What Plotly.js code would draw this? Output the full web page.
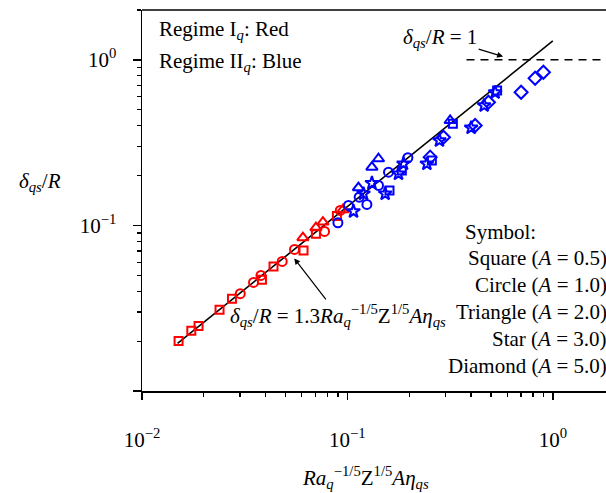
<!DOCTYPE html>
<html>
<head>
<meta charset="utf-8">
<script src="https://cdn.plot.ly/plotly-3.0.1.min.js"></script>
<style>html,body{margin:0;padding:0;background:#fff}#chart{width:606px;height:493px}</style>
</head>
<body>
<div id="chart"></div>
<script>
// Regime I (red)
const redSquareX = [0.01507, 0.01738, 0.01885, 0.02385, 0.02742, 0.03837, 0.04368, 0.06115, 0.07027, 0.0889];
const redSquareY = [0.02004, 0.02314, 0.02468, 0.03098, 0.03610, 0.0470, 0.05656, 0.07064, 0.0891, 0.1138];
const redCircleX = [0.03009, 0.03491, 0.03794, 0.04816, 0.05527, 0.0774, 0.0923];
const redCircleY = [0.0387, 0.04529, 0.04991, 0.06064, 0.07163, 0.092, 0.1232];
const redTriangleX = [0.06073, 0.07027, 0.0760, 0.0951];
const redTriangleY = [0.0843, 0.0969, 0.1047, 0.1244];
// Regime II (blue)
const blueSquareX = [0.1603, 0.1841, 0.2577, 0.3262, 0.5357];
const blueSquareY = [0.1627, 0.2147, 0.2468, 0.4110, 0.6527];
const blueCircleX = [0.0899, 0.1012, 0.1141, 0.1244, 0.1417, 0.1585, 0.197];
const blueCircleY = [0.1038, 0.132, 0.1482, 0.1339, 0.1743, 0.2097, 0.2563];
const blueTriangleX = [0.1132, 0.1316, 0.1417, 0.3164];
const blueTriangleY = [0.1689, 0.2248, 0.2527, 0.4301];
const blueStarX = [0.1071, 0.1198, 0.1316, 0.1527, 0.1773, 0.1875, 0.2437, 0.2806, 0.4003, 0.4631, 0.5238];
const blueStarY = [0.1215, 0.1554, 0.18, 0.1554, 0.2051, 0.2357, 0.2357, 0.3258, 0.3888, 0.5299, 0.635];
const blueDiamondX = [0.2529, 0.2935, 0.4187, 0.486, 0.701, 0.8202, 0.9];
const blueDiamondY = [0.2584, 0.3411, 0.4014, 0.5548, 0.6374, 0.774, 0.8417];
// Fit line delta/R = 1.3 X and limit delta/R = 1
const fitCoef = 1.3;
const fitX = [0.0149, 1.0];
const limitX = [0.38, 2.0];
const limitY = [1, 1];
// Tick labels
const xTickVals = [0.01, 0.1, 1];
const xTickText = ['10<sup>−2</sup>', '10<sup>−1</sup>', '10<sup>0</sup>'];
const yTickVals = [0.01, 0.1, 1];
const yTickText = ['', '10<sup>−1</sup>', '10<sup>0</sup>'];
const minorVals = [0.02,0.03,0.04,0.05,0.06,0.07,0.08,0.09,0.2,0.3,0.4,0.5,0.6,0.7,0.8,0.9,2];
const symbolLines = ['Square (<i>A</i> = 0.5)', 'Circle (<i>A</i> = 1.0)', 'Triangle (<i>A</i> = 2.0)', 'Star (<i>A</i> = 3.0)', 'Diamond (<i>A</i> = 5.0)'];

const RED = 'rgb(255,0,0)', BLUE = 'rgb(0,0,255)';
const FONT = 'Liberation Serif';
const FS = 21;

function mk(x, y, color, symbol, size) {
  return {x: x, y: y, type: 'scatter', mode: 'markers', cliponaxis: false,
    marker: {symbol: symbol, color: color, size: size, line: {color: color, width: 2}}};
}

const traces = [
  {x: limitX, y: limitY, type: 'scatter', mode: 'lines', line: {color: 'black', width: 1.5, dash: '8px,6px'}},
  {x: fitX, y: fitX.map(v => fitCoef * v), type: 'scatter', mode: 'lines', line: {color: 'black', width: 1.6}},
  mk(redSquareX, redSquareY, RED, 'square-open', 8),
  mk(redCircleX, redCircleY, RED, 'circle-open', 9),
  mk(redTriangleX, redTriangleY, RED, 'triangle-up-open', 10),
  mk(blueSquareX, blueSquareY, BLUE, 'square-open', 8),
  mk(blueCircleX, blueCircleY, BLUE, 'circle-open', 9),
  mk(blueTriangleX, blueTriangleY, BLUE, 'triangle-up-open', 10),
  mk(blueStarX, blueStarY, BLUE, 'star-open', 10),
  mk(blueDiamondX, blueDiamondY, BLUE, 'diamond-open', 10)
];

const axisCommon = {
  type: 'log', showgrid: false, zeroline: false, showline: true, linecolor: 'black', linewidth: 1.5,
  ticks: 'outside', tickwidth: 1.5, tickcolor: 'black', tickmode: 'array',
  tickfont: {family: FONT, size: FS, color: 'black'},
  minor: {tickmode: 'array', tickvals: minorVals, ticks: 'outside', ticklen: 4, tickwidth: 1.2, tickcolor: 'black', showgrid: false}
};

const anns = [
  {xref: 'paper', yref: 'paper', x: 0.032, y: 0.9475, xanchor: 'left', yanchor: 'middle', showarrow: false,
   text: 'Regime I<sub><i>q</i></sub>: Red'},
  {xref: 'paper', yref: 'paper', x: 0.032, y: 0.8635, xanchor: 'left', yanchor: 'middle', showarrow: false,
   text: 'Regime II<sub><i>q</i></sub>: Blue'},
  {xref: 'x', yref: 'y', x: Math.log10(0.573), y: Math.log10(1.047), ax: -63, ay: -19,
   showarrow: true, arrowhead: 2, arrowsize: 1, arrowwidth: 1.2, arrowcolor: 'black',
   text: '<i>δ<sub>qs</sub></i>/<i>R</i> = 1'},
  {xref: 'x', yref: 'y', x: Math.log10(0.0551), y: Math.log10(0.0632), ax: 44, ay: 57,
   showarrow: true, arrowhead: 2, arrowsize: 1, arrowwidth: 1.2, arrowcolor: 'black',
   text: '<i>δ<sub>qs</sub></i>/<i>R</i> = 1.3<i>Ra<sub>q</sub></i><sup>−1/5</sup>Z<sup>1/5</sup><i>Aη<sub>qs</sub></i>'},
  {xref: 'paper', yref: 'paper', x: (463 - 142) / 464, y: (391 - 232) / 381, xanchor: 'left', yanchor: 'middle', showarrow: false,
   text: 'Symbol:'},
  {xref: 'paper', yref: 'paper', x: 0.5, y: (391 - 477) / 381, xanchor: 'center', yanchor: 'middle', showarrow: false,
   text: '<i>Ra<sub>q</sub></i><sup>−1/5</sup>Z<sup>1/5</sup><i>Aη<sub>qs</sub></i>', xshift: -9},
  {xref: 'paper', yref: 'paper', x: (40 - 142) / 464, y: (391 - 182) / 381, xanchor: 'center', yanchor: 'middle', showarrow: false,
   text: '<i>δ<sub>qs</sub></i>/<i>R</i>'}
];
symbolLines.forEach((t, i) => {
  anns.push({xref: 'paper', yref: 'paper', x: 1, xshift: 3, y: (391 - (258 + 27 * i)) / 381,
    xanchor: 'right', yanchor: 'middle', showarrow: false, text: t});
});

const layout = {
  width: 606, height: 493,
  margin: {l: 142, r: 0, t: 10, b: 102, pad: 0},
  paper_bgcolor: 'white', plot_bgcolor: 'white',
  showlegend: false,
  font: {family: FONT, size: FS, color: 'black'},
  xaxis: Object.assign({}, axisCommon, {range: [-2, 0.259], tickvals: xTickVals, ticktext: xTickText, ticklen: 7, ticklabelstandoff: 22}),
  yaxis: Object.assign({}, axisCommon, {range: [-2, 0.301], tickvals: yTickVals, ticktext: yTickText, ticklen: 8, ticklabelstandoff: 12}),
  shapes: [
    {type: 'line', xref: 'paper', yref: 'paper', x0: 0, x1: 1, y0: 1, y1: 1, line: {color: 'black', width: 1.5}}
  ],
  annotations: anns
};

Plotly.newPlot('chart', traces, layout, {staticPlot: true, displayModeBar: false});
</script>
</body>
</html>
